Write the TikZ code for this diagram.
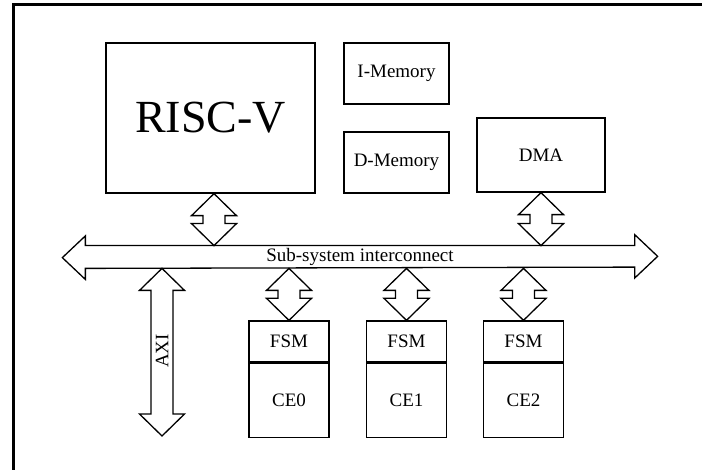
\documentclass[tikz,border=0pt]{standalone}
\usepackage{fontspec}
\setmainfont{Liberation Serif}
\usetikzlibrary{positioning,calc}

\tikzset{
  box/.style={draw, line width=1.3pt, inner sep=0pt, font=\fontsize{19}{22}\selectfont},
  blk/.style={draw, line width=1.3pt, line join=miter, fill=white}
}

% vertical two-headed block arrow between two points
\newcommand{\vlink}[2]{%
  \draw[blk] let \p1=(#1), \p2=(#2) in
    (\x1,\y1) -- (\x1+22.5pt,\y1-22pt) -- (\x1+11pt,\y1-22pt) -- (\x1+11pt,\y2+22pt)
    -- (\x1+22.5pt,\y2+22pt) -- (\x1,\y2) -- (\x1-22.5pt,\y2+22pt) -- (\x1-11pt,\y2+22pt)
    -- (\x1-11pt,\y1-22pt) -- (\x1-22.5pt,\y1-22pt) -- cycle;}

\begin{document}
\begin{tikzpicture}[x=1pt,y=-1pt]
  \useasboundingbox (0,0) rectangle (702,470);
  % frame, cut by the page edge
  \draw[line width=3pt] (702,5) -- (13,5) -- (13,472);

  % top row
  \node[box, minimum width=209pt, minimum height=150pt, font=\fontsize{46}{50}\selectfont] (risc) at (210.5,118) {RISC-V};
  \node[box, minimum width=105pt, minimum height=61pt] (imem) at (396.5,73.5) {I-Memory};
  \node[box, minimum width=105pt, minimum height=61pt] (dmem) at (396.5,162.5) {D-Memory};
  \node[box, minimum width=128pt, minimum height=74pt] (dma) at (541,155) {DMA};

  % interconnect
  \node[box, draw=none, minimum width=548pt, minimum height=21.5pt] (bus) at (360,257) {};
  \draw[blk] (bus.north west) -- (bus.north east) -- ++(0,-11) -- ++(23,21.75) -- ++(-23,21.75)
    -- ++(0,-11) -- (bus.south west) -- ++(0,11) -- ++(-23,-21.75) -- ++(23,-21.75) -- cycle;
  \node[box, draw=none] (buslabel) at (bus.center) {Sub-system interconnect};

  % compute engines
  \node[box, minimum width=80pt, minimum height=41pt] (fsm0) at (289,341.5) {FSM};
  \node[box, minimum width=80pt, minimum height=74pt, below=0pt of fsm0] (ce0) {CE0};
  \node[box, minimum width=80pt, minimum height=41pt] (fsm1) at (406.5,341.5) {FSM};
  \node[box, minimum width=80pt, minimum height=74pt, below=0pt of fsm1] (ce1) {CE1};
  \node[box, minimum width=80pt, minimum height=41pt] (fsm2) at (523.5,341.5) {FSM};
  \node[box, minimum width=80pt, minimum height=74pt, below=0pt of fsm2] (ce2) {CE2};

  \coordinate (axiend) at (162,436);

  % links
  \vlink{[xshift=3.5pt]risc.south}{[xshift=3.5pt]risc.south |- bus.north}
  \vlink{dma.south}{dma.south |- bus.north}
  \vlink{bus.south -| fsm0.north}{fsm0.north}
  \vlink{bus.south -| fsm1.north}{fsm1.north}
  \vlink{bus.south -| fsm2.north}{fsm2.north}
  \vlink{bus.south -| axiend}{axiend}
  \node[box, draw=none, rotate=90] (axi) at (162,351) {AXI};
\end{tikzpicture}
\end{document}
